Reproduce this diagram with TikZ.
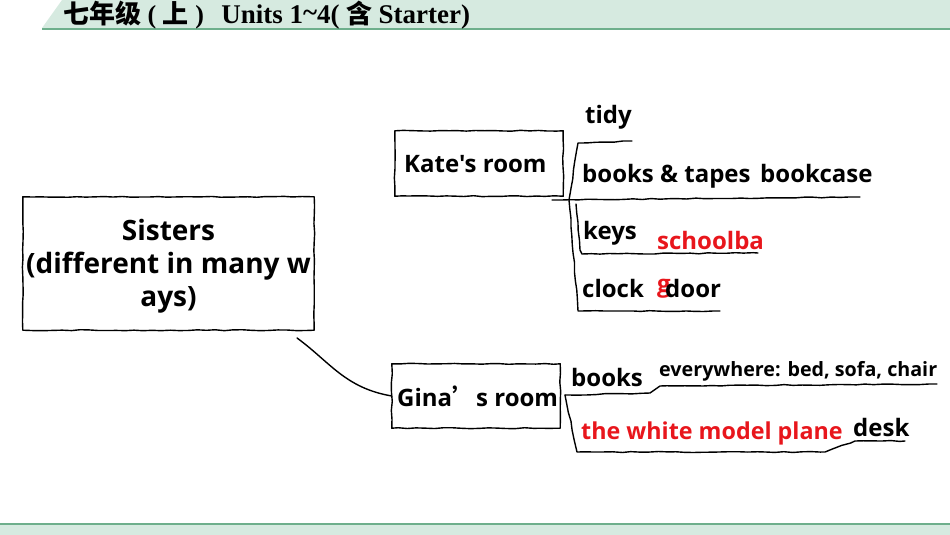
\documentclass[tikz,border=0pt]{standalone}
\usepackage{fontspec}
\setmainfont{Open Sans}
\newfontfamily\bodyfont{Open Sans}
\newfontfamily\cjk{Noto Sans CJK SC}
\newfontfamily\hdserif{Liberation Serif}
\usetikzlibrary{decorations.pathmorphing}
\definecolor{hdfill}{RGB}{214,234,224}
\definecolor{hdline}{RGB}{110,175,140}
\definecolor{redtxt}{RGB}{232,22,28}
\tikzset{
  sketch/.style={line width=1.4pt, line cap=round, line join=round,
    decorate, decoration={random steps, segment length=9pt, amplitude=0.5pt}},
  plainline/.style={line width=1.4pt, line cap=round, line join=round},
  lab/.style={inner sep=0pt, anchor=base west, font=\bodyfont\bfseries\fontsize{24}{28}\selectfont},
  smalllab/.style={lab, font=\bodyfont\bfseries\fontsize{19.7}{23}\selectfont},
  redlab/.style={lab, text=redtxt},
  boxnode/.style={inner sep=0pt, align=center, font=\bodyfont\bfseries\fontsize{24}{28}\selectfont}
}
\begin{document}
\begin{tikzpicture}[x=1pt,y=-1pt]
\useasboundingbox (0,0) rectangle (950,535);
% header
\fill[hdfill] (42,28) -- (62,0) -- (950,0) -- (950,28) -- cycle;
\draw[hdline, line width=2pt] (42,29) -- (950,29);
\node[inner sep=0pt, anchor=base west, font=\bfseries\fontsize{26}{30}\selectfont] (hdr) at (63,24)
  {{\cjk 七年级}\hdserif{} ( {\cjk 上} )\, \ {\fontsize{27}{30}\selectfont Units 1\raisebox{2pt}{\textasciitilde}4(} {\cjk 含} {\fontsize{27}{30}\selectfont Starter)}};
% footer
\fill[hdfill] (0,524) rectangle (950,535);
\draw[hdline, line width=2pt] (0,524) -- (950,524);

% main boxes
\node[boxnode, minimum width=291pt, minimum height=133pt] (sis) at (168.5,263.5) {};
\draw[sketch] (sis.south west) rectangle (sis.north east);
\node[boxnode, font=\bodyfont\bfseries\fontsize{28}{33}\selectfont] (sistxt) at (168.5,266) {Sisters\\(different in many w\\ays)};

\node[boxnode, minimum width=168pt, minimum height=65pt] (kate) at (479,163.5) {};
\draw[sketch] (kate.south west) rectangle (kate.north east);
\node[lab] (katetxt) at (404,172) {Kate's room};

\node[boxnode, minimum width=168pt, minimum height=64pt] (gina) at (476,396) {};
\draw[sketch] (gina.south west) rectangle (gina.north east);
\node[lab] (ginatxt) at (397,406) {Gina{\cjk ’}s room};

% connector Sisters -> Gina
\coordinate (sisend) at (297,338);
\draw[plainline] (sisend) .. controls (330,362) and (345,388) .. (gina.west);

% Kate's room bracket
\coordinate (k0) at (578,143);
\coordinate (k0r) at (632,141);
\coordinate (kmid) at (569,200);
\coordinate (kmidL) at (552,200);
\coordinate (kmidR) at (860,197);
\coordinate (k2L) at (582,254);
\coordinate (k2R) at (758,253);
\coordinate (k3L) at (578,311);
\coordinate (k3R) at (720,311);
\draw[sketch] (k0r) -- (k0) -- (kmid) -- (k3L) -- (k3R);
\draw[sketch] (kmidL) -- (kmidR);
\draw[sketch] (576,204) -- (580,250) -- (k2L) -- (k2R);

\node[lab] (tidy) at (585,123) {tidy};
\node[lab] (bt) at (582,182) {books \& tapes};
\node[lab] (bc) at (760,182) {bookcase};
\node[lab] (keys) at (583,239) {keys};
\node[redlab] (sb) at (657,249) {schoolba};
\node[redlab] (g) at (657,292) {g};
\node[lab] (clock) at (582,297) {clock};
\node[lab] (door) at (665,297) {door};

% Gina's room bracket
\coordinate (g0) at (565,395);
\coordinate (g0a) at (650,393);
\coordinate (g0b) at (660,386);
\coordinate (g0R) at (937,384);
\coordinate (g1L) at (577,452);
\coordinate (g1a) at (825,452);
\coordinate (g1b) at (855,441);
\coordinate (g1R) at (905,441);
\draw[sketch] (g0R) -- (g0b) -- (g0a) -- (g0);
\draw[sketch] (g0) -- (g1L) -- (g1a) -- (g1b) -- (g1R);

\node[lab] (books) at (571,386) {books};
\node[smalllab] (ev) at (659,376) {everywhere: bed, sofa, chair};
\node[redlab, font=\bodyfont\bfseries\fontsize{23.3}{27}\selectfont] (plane) at (581,439) {the white model plane};
\node[lab] (desk) at (853,436) {desk};
\end{tikzpicture}
\end{document}
